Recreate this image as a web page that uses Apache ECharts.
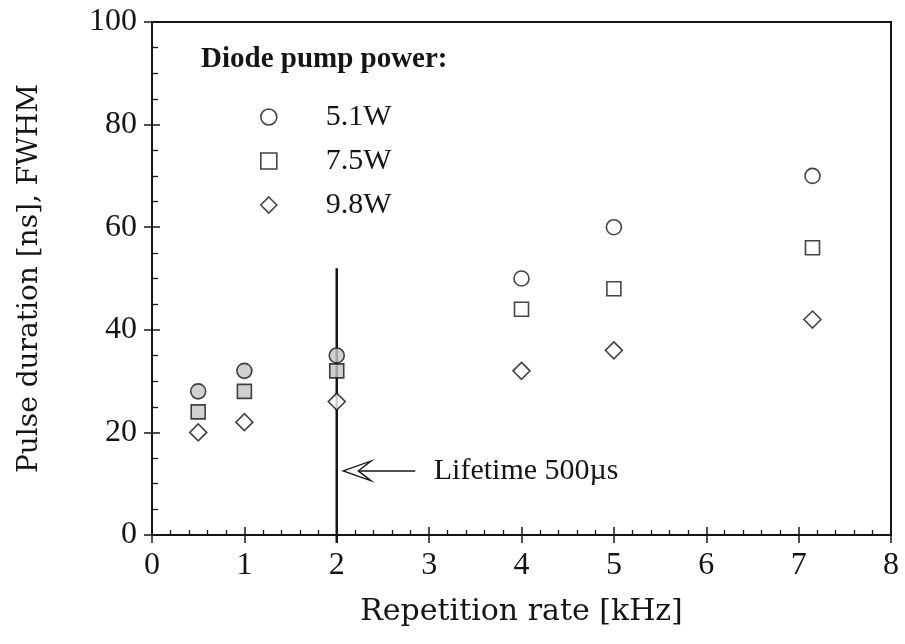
<!DOCTYPE html>
<html><head><meta charset="utf-8">
<script src="https://cdn.jsdelivr.net/npm/echarts@6/dist/echarts.min.js"></script>
<style>html,body{margin:0;padding:0;background:#fff}#c{width:905px;height:644px}</style>
</head><body><div id="c"></div>
<script>
// ---- data ----
const repRate = [0.5, 1, 2, 4, 5, 7.15];
const pulse51 = [28, 32, 35, 50, 60, 70];
const pulse75 = [24, 28, 32, 44, 48, 56];
const pulse98 = [20, 22, 26, 32, 36, 42];
const seriesNames = ['5.1W', '7.5W', '9.8W'];
const legendTitle = 'Diode pump power:';
const lifetimeX = 2;
const lifetimeSpan = [-1.5, 52];
const lifetimeText = 'Lifetime 500µs';
const arrowFrom = [2.85, 12.5];
const arrowTo = [2.07, 12.5];
const lifetimeLabelAt = [3.05, 12.5];
const xName = 'Repetition rate [kHz]';
const yName = 'Pulse duration [ns], FWHM';

const serif = '"Liberation Serif", "Times New Roman", serif';
const wide = '"DejaVu Serif", serif';
const ink = '#151515';
const chart = echarts.init(document.getElementById('c'), null, {renderer: 'canvas'});

function pts(ys, shaded) {
  return repRate.map((x, i) => {
    const d = {value: [x, ys[i]]};
    if (shaded && x <= 2) d.itemStyle = {color: '#c4c4c4'};
    return d;
  });
}
const markerStyle = {color: '#fff', borderColor: ink, borderWidth: 1.6};

const axisCommon = {
  type: 'value', splitLine: {show: false},
  axisLine: {lineStyle: {color: ink, width: 2}},
};

const option = {
  animation: false,
  backgroundColor: '#fff',
  grid: {left: 152, right: 14, top: 22, bottom: 109, show: true, borderColor: ink, borderWidth: 2},
  title: {text: legendTitle, left: 196, top: 40,
    textStyle: {fontFamily: serif, fontWeight: 'bold', fontSize: 29, color: ink}},
  legend: {
    orient: 'vertical', left: 255, top: 97, itemWidth: 16, itemHeight: 16, itemGap: 14,
    data: seriesNames,
    itemStyle: {color: '#fff', borderColor: ink, borderWidth: 1.6},
    textStyle: {fontFamily: serif, fontSize: 30, color: ink, lineHeight: 30, padding: [0, 0, 0, 44]}
  },
  xAxis: [
    Object.assign({}, axisCommon, {
      min: 0, max: 8, interval: 1, position: 'bottom',
      axisTick: {inside: true, length: 8, lineStyle: {color: ink, width: 1.5}},
      minorTick: {show: true, splitNumber: 5, length: 5, lineStyle: {color: ink, width: 1.3}},
      axisLabel: {fontFamily: serif, fontSize: 32, color: ink, margin: 15},
      name: xName, nameLocation: 'middle', nameGap: 62,
      nameTextStyle: {fontFamily: wide, fontSize: 30, color: ink}
    }),
    Object.assign({}, axisCommon, {
      min: 0, max: 8, interval: 1, position: 'bottom',
      axisLine: {show: false}, axisLabel: {show: false},
      axisTick: {inside: false, length: 8, lineStyle: {color: ink, width: 1.5}}
    })
  ],
  yAxis: [
    Object.assign({}, axisCommon, {
      min: 0, max: 100, interval: 20, position: 'left',
      axisTick: {inside: true, length: 8, lineStyle: {color: ink, width: 1.5}},
      minorTick: {show: true, splitNumber: 4, length: 6, lineStyle: {color: ink, width: 1.3}},
      axisLabel: {fontFamily: serif, fontSize: 32, color: ink, margin: 15},
      name: yName, nameLocation: 'middle', nameGap: 108, nameRotate: 90,
      nameTextStyle: {fontFamily: wide, fontSize: 28, color: ink}
    }),
    Object.assign({}, axisCommon, {
      min: 0, max: 100, interval: 20, position: 'left',
      axisLine: {show: false}, axisLabel: {show: false},
      axisTick: {inside: false, length: 8, lineStyle: {color: ink, width: 1.5}}
    })
  ],
  series: [
    {type: 'line', name: 'lifetime', data: [[lifetimeX, lifetimeSpan[0]], [lifetimeX, lifetimeSpan[1]]],
      symbol: 'none', clip: false, silent: true, z: 3,
      lineStyle: {color: ink, width: 2.5}},
    {type: 'custom', name: 'arrow', clip: false, silent: true, z: 4,
      data: [[arrowFrom[0], arrowFrom[1], arrowTo[0], arrowTo[1], lifetimeLabelAt[0], lifetimeLabelAt[1]]],
      renderItem: function (params, api) {
        const a = api.coord([api.value(0), api.value(1)]);
        const b = api.coord([api.value(2), api.value(3)]);
        const t = api.coord([api.value(4), api.value(5)]);
        const L = 28, H = 10, N = 15;
        return {type: 'group', children: [
          {type: 'line', shape: {x1: a[0], y1: a[1], x2: b[0] + N, y2: b[1]}, style: {stroke: ink, lineWidth: 1.5}},
          {type: 'polygon', shape: {points: [[b[0], b[1]], [b[0] + L, b[1] - H], [b[0] + N, b[1]], [b[0] + L, b[1] + H]]},
            style: {fill: '#fff', stroke: ink, lineWidth: 1.3}},
          {type: 'text', x: t[0], y: t[1], style: {text: lifetimeText, fill: ink,
            font: '30px "Liberation Serif", serif', verticalAlign: 'middle', align: 'left'}}
        ]};
      }},
    {type: 'scatter', name: seriesNames[0], symbol: 'circle', symbolSize: 15, z: 5,
      itemStyle: markerStyle, data: pts(pulse51, true)},
    {type: 'scatter', name: seriesNames[1], symbol: 'rect', symbolSize: 14, z: 5,
      itemStyle: markerStyle, data: pts(pulse75, true)},
    {type: 'scatter', name: seriesNames[2], symbol: 'diamond', symbolSize: 17, z: 5,
      itemStyle: markerStyle, data: pts(pulse98, false)}
  ]
};
chart.setOption(option);
</script></body></html>
